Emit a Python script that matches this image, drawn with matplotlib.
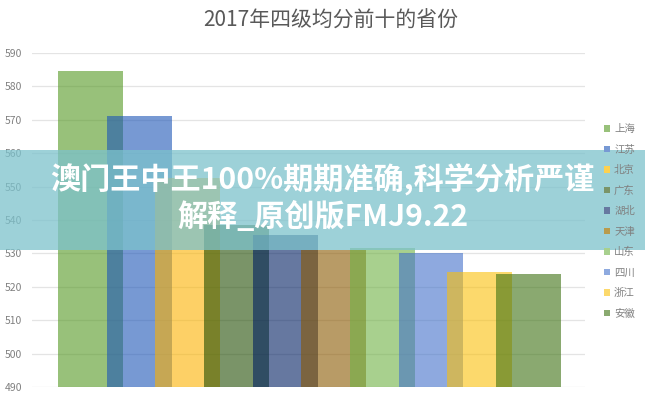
import numpy as np
import matplotlib
matplotlib.use('Agg')
import matplotlib.pyplot as plt
from matplotlib.patches import Patch

plt.rcParams['font.family'] = ['Noto Sans CJK SC', 'DejaVu Sans']

# Data
provinces = ['上海', '江苏', '北京', '广东', '湖北', '天津', '山东', '四川', '浙江', '安徽']
scores = [584.6, 571.0, 552.6, 538.4, 535.5, 531.0, 531.5, 530.2, 524.3, 523.8]
yticks = [490, 500, 510, 520, 530, 540, 550, 560, 570, 580, 590]

# Colours as they look on white; bars are drawn half transparent so overlaps darken
seen_colors = ['#98c17a', '#7799d4', '#fdd150', '#7a9468', '#6678a0',
               '#b99b4b', '#a8d08e', '#8eaadf', '#fcd96c', '#8aaa70']
ALPHA = 0.6


def base_color(hex_color):
    rgb = np.array(matplotlib.colors.to_rgb(hex_color))
    c = (rgb - (1 - ALPHA)) / ALPHA
    return tuple(np.clip(c, 0, 1))


fig = plt.figure(figsize=(6.45, 4.0), dpi=100)
ax = fig.add_axes([0.0496, 0.0325, 0.857, 0.835])

x = np.arange(len(provinces))
for i in range(len(provinces)):
    ax.bar(x[i], scores[i] - 490, bottom=490, width=1.335,
           color=base_color(seen_colors[i]), alpha=ALPHA, linewidth=0, zorder=2)

ax.set_ylim(490, 590)
ax.set_xlim(-1.202, 10.16)
ax.set_yticks(yticks)
ax.set_xticks([])
ax.grid(axis='y', color='#e4e4e4', linewidth=0.9, zorder=0)
ax.set_axisbelow(True)
for s in ax.spines.values():
    s.set_visible(False)
ax.tick_params(axis='y', length=0, pad=7, labelsize=7.5, labelcolor='#808080')

fig.text(0.512, 0.948, '2017年四级均分前十的省份', ha='center', va='center',
         fontsize=15, color='#595959')

# Legend
handles = [Patch(facecolor=seen_colors[i], edgecolor='none') for i in range(len(provinces))]
leg = fig.legend(handles, provinces, loc='upper left', bbox_to_anchor=(0.936, 0.69),
                 frameon=False, fontsize=7.5, labelcolor='#808080',
                 handlelength=0.6, handleheight=0.6, handletextpad=0.4,
                 labelspacing=1.0, borderaxespad=0, borderpad=0)

# Semi-transparent banner with the overlaid caption
fig.patches.append(plt.Rectangle((0, 0.375), 1, 0.25, transform=fig.transFigure,
                                 facecolor='#7cc2cc', alpha=0.75, edgecolor='none',
                                 zorder=5))
fig.text(0.5, 0.5525, '澳门王中王100%期期准确,科学分析严谨', ha='center', va='center',
         fontsize=21.7, fontweight='bold', color='white', zorder=6)
fig.text(0.5, 0.46, '解释_原创版FMJ9.22', ha='center', va='center',
         fontsize=21.7, fontweight='bold', color='white', zorder=6)

fig.savefig('out.png', dpi=100)
